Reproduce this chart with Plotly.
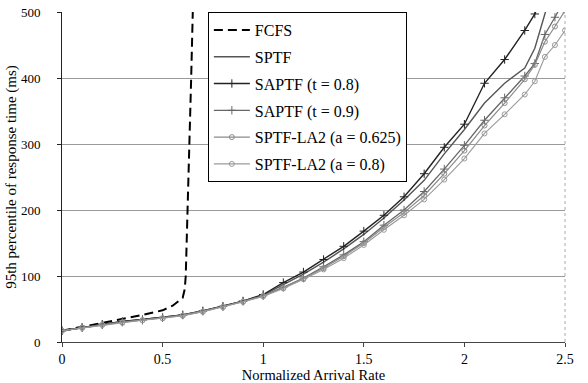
import plotly.graph_objects as go

# ---- data ----
x_fcfs = [0, 0.1, 0.2, 0.3, 0.4, 0.5, 0.55, 0.6, 0.61, 0.615, 0.625, 0.635, 0.642, 0.65]
y_fcfs = [17, 23, 28, 34, 41, 48, 55, 67, 80, 100, 200, 300, 400, 500]

x_rate = [0, 0.1, 0.2, 0.3, 0.4, 0.5, 0.6, 0.7, 0.8, 0.9, 1.0, 1.1, 1.2, 1.3, 1.4,
          1.5, 1.6, 1.7, 1.8, 1.9, 2.0, 2.1, 2.2, 2.3, 2.35, 2.4, 2.45, 2.5]
y_sptf = [17, 22, 27, 31, 34, 37, 41, 47, 54, 62, 71, 87, 103, 121, 141,
          163, 188, 215, 245, 285, 322, 362, 392, 415, 445, 497, 550, 600]
y_saptf_08 = [17, 22, 27, 31, 34, 37, 41, 47, 54, 62, 72, 90, 106, 125, 145,
              168, 192, 220, 255, 295, 330, 392, 428, 472, 497, 535, 580, 620]
y_saptf_09 = [17, 22, 26, 30, 33, 37, 41, 47, 54, 62, 70, 83, 97, 114, 132,
              152, 177, 200, 228, 262, 298, 336, 370, 403, 422, 466, 492, 520]
y_la2_0625 = [17, 22, 26, 30, 33, 36, 40, 46, 53, 61, 70, 82, 96, 112, 130,
              150, 174, 196, 222, 255, 290, 328, 362, 398, 420, 455, 478, 502]
y_la2_08 = [17, 21, 26, 29, 33, 36, 40, 46, 53, 61, 69, 81, 95, 110, 127,
            147, 170, 192, 216, 246, 278, 316, 345, 375, 395, 432, 450, 472]

names = ["FCFS", "SPTF", "SAPTF (t = 0.8)", "SAPTF (t = 0.9)",
         "SPTF-LA2 (a = 0.625)", "SPTF-LA2 (a = 0.8)"]
x_ticks = [0, 0.5, 1, 1.5, 2, 2.5]
y_ticks = [0, 100, 200, 300, 400, 500]

FONT = "Liberation Serif, Times New Roman, serif"

fig = go.Figure()
fig.add_trace(go.Scatter(x=x_fcfs, y=y_fcfs, mode="lines", name=names[0],
                         line=dict(color="black", width=2, dash="9px,5px"),
                         legendgroup="a"))
fig.add_trace(go.Scatter(x=x_rate, y=y_sptf, mode="lines", name=names[1],
                         line=dict(color="#555555", width=1.4), legendgroup="b"))
fig.add_trace(go.Scatter(x=x_rate, y=y_saptf_08, mode="lines+markers", name=names[2],
                         line=dict(color="#222222", width=1.4),
                         marker=dict(symbol="cross-thin-open", size=6,
                                     line=dict(color="#222222", width=1)),
                         legendgroup="c"))
fig.add_trace(go.Scatter(x=x_rate, y=y_saptf_09, mode="lines+markers", name=names[3],
                         line=dict(color="#666666", width=1.3),
                         marker=dict(symbol="cross-thin-open", size=6,
                                     line=dict(color="#555555", width=1)),
                         legendgroup="d"))
fig.add_trace(go.Scatter(x=x_rate, y=y_la2_0625, mode="lines+markers", name=names[4],
                         line=dict(color="#8a8a8a", width=1.2),
                         marker=dict(symbol="circle-open", size=5,
                                     line=dict(color="#888888", width=1)),
                         legendgroup="e"))
fig.add_trace(go.Scatter(x=x_rate, y=y_la2_08, mode="lines+markers", name=names[5],
                         line=dict(color="#9a9a9a", width=1.1),
                         marker=dict(symbol="circle-open", size=5,
                                     line=dict(color="#999999", width=1)),
                         legendgroup="f"))

fig.update_layout(
    width=588, height=383,
    margin=dict(l=62, r=23, t=12, b=41, autoexpand=False),
    paper_bgcolor="white", plot_bgcolor="white",
    font=dict(family=FONT, size=15, color="black"),
    showlegend=True,
    legend=dict(x=0.29, y=1, xanchor="left", yanchor="top",
                bgcolor="white", bordercolor="black", borderwidth=1,
                font=dict(family=FONT, size=16, color="black"),
                itemwidth=36,
                traceorder="grouped", tracegroupgap=3),
    xaxis=dict(range=[0, 2.5], tickvals=x_ticks, showgrid=False, zeroline=False,
               automargin=False,
               showline=True, linecolor="#444444", linewidth=1,
               ticks="outside", ticklen=4, tickcolor="#444444",
               tickfont=dict(size=14), ticklabelstandoff=0,
               title=dict(text="Normalized Arrival Rate", standoff=5,
                          font=dict(size=14.5))),
    yaxis=dict(range=[0, 500], tickvals=y_ticks, showgrid=True, gridcolor="#999999",
               gridwidth=1, zeroline=False, automargin=False,
               showline=True, linecolor="#222222", linewidth=1,
               ticks="outside", ticklen=4, tickcolor="#222222",
               tickfont=dict(size=13), ticklabelstandoff=14,
               title=dict(text="95th percentile of response time (ms)", standoff=0,
                          font=dict(size=15))),
    shapes=[dict(type="line", xref="paper", yref="paper", x0=1, x1=1, y0=0, y1=1,
                 line=dict(color="#aaaaaa", width=1, dash="dot"))],
)

fig.write_html("out.html")
